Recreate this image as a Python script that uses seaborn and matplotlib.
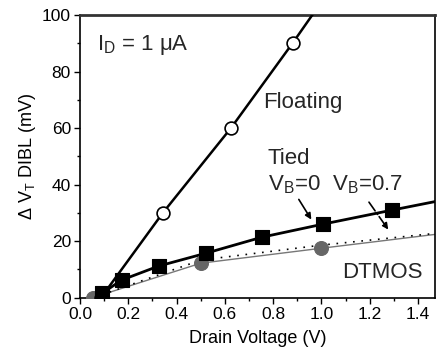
import matplotlib
matplotlib.use("Agg")
import matplotlib.pyplot as plt
import seaborn as sns
from matplotlib.ticker import MultipleLocator

sns.set_theme(style="ticks")
plt.rcParams['font.family'] = ['Liberation Sans', 'DejaVu Sans']
plt.rcParams['mathtext.fontset'] = 'custom'
plt.rcParams['mathtext.rm'] = 'Liberation Sans'
plt.rcParams['mathtext.it'] = 'Liberation Sans'

# Data
float_x = [0.087, 0.343, 0.625, 0.88]
float_y = [0.0, 30.0, 60.0, 90.0]
float_line_x = [0.087, 0.343, 0.625, 0.88, 0.97]
float_line_y = [0.0, 30.0, 60.0, 90.0, 101.0]

tied_x = [0.09, 0.174, 0.326, 0.52, 0.753, 1.005, 1.293]
tied_y = [1.5, 6.3, 11.2, 15.7, 21.4, 26.0, 31.0]
tied_line_x = tied_x + [1.5]
tied_line_y = tied_y + [34.5]

dt_x = [0.052, 0.5, 1.0]
dt_y = [0.0, 12.2, 17.5]
dt_line_x = dt_x + [1.5]
dt_line_y = dt_y + [22.7]

vb07_x = [0.09, 0.5, 1.0, 1.5]
vb07_y = [1.0, 13.3, 18.6, 23.0]

xticks = [0.0, 0.2, 0.4, 0.6, 0.8, 1.0, 1.2, 1.4]
yticks = [0, 20, 40, 60, 80, 100]

fig = plt.figure(figsize=(4.37, 3.52), dpi=100)
ax = fig.add_axes([80/437, 1-297.7/352, (435-80)/437, (297.7-15)/352])

# lines
sns.lineplot(x=float_line_x, y=float_line_y, ax=ax, color='black', lw=1.8, sort=False, zorder=3)
sns.lineplot(x=tied_line_x, y=tied_line_y, ax=ax, color='black', lw=2.0, sort=False, zorder=3)
sns.lineplot(x=dt_line_x, y=dt_line_y, ax=ax, color='#777777', lw=1.0, sort=False, zorder=2)
sns.lineplot(x=vb07_x, y=vb07_y, ax=ax, color='black', lw=1.2, sort=False, zorder=2)
ax.lines[-1].set_linestyle((0, (1, 4)))

# markers
sns.scatterplot(x=float_x, y=float_y, ax=ax, marker='o', s=85, facecolor='white',
                edgecolor='black', linewidth=1.2, zorder=5)
sns.scatterplot(x=tied_x, y=tied_y, ax=ax, marker='s', s=100, color='black',
                edgecolor='black', zorder=5)
sns.scatterplot(x=dt_x, y=dt_y, ax=ax, marker='o', s=100, color='#666666',
                edgecolor='#666666', zorder=4)

ax.set_xlim(0, 1.47)
ax.set_ylim(0, 100)
ax.set_xticks(xticks)
ax.set_yticks(yticks)
ax.xaxis.set_minor_locator(MultipleLocator(0.1))
ax.yaxis.set_minor_locator(MultipleLocator(10))
ax.set_xticklabels([f"{v:.1f}" for v in xticks], fontsize=12.5)
ax.set_yticklabels([str(v) for v in yticks], fontsize=12.5)
ax.tick_params(which='major', direction='out', length=4.5, width=1, color='black', pad=2, labelcolor='black')
ax.tick_params(which='minor', direction='out', length=2.5, width=1, color='black')
for s in ax.spines.values():
    s.set_visible(True)
    s.set_color('black')
    s.set_linewidth(1.2)
ax.spines['top'].set_color('#333333')
ax.spines['top'].set_linewidth(2)

ax.set_xlabel("Drain Voltage (V)", fontsize=13, color='black', labelpad=6)
ax.set_ylabel(r"$\Delta$ V$_T$ DIBL (mV)", fontsize=13, color='black', labelpad=3)

fs = 16
ax.text(0.07, 89.3, r"I$_D$ = 1 μA", fontsize=fs, va='center', ha='left')
ax.text(0.757, 69, "Floating", fontsize=fs, va='center', ha='left')
ax.text(0.778, 49.4, "Tied", fontsize=fs, va='center', ha='left')
ax.text(0.778, 40.0, r"V$_B$=0", fontsize=fs, va='center', ha='left')
ax.text(1.043, 40.0, r"V$_B$=0.7", fontsize=fs, va='center', ha='left')
ax.text(1.084, 8.8, "DTMOS", fontsize=fs, va='center', ha='left')

ax.annotate("", xy=(0.964, 26.8), xytext=(0.90, 35.6),
            arrowprops=dict(arrowstyle='-|>', color='black', lw=1.2, mutation_scale=9), zorder=6)
ax.annotate("", xy=(1.283, 23.3), xytext=(1.19, 34.6),
            arrowprops=dict(arrowstyle='-|>', color='black', lw=1.2, linestyle='-.', mutation_scale=9), zorder=6)

fig.savefig("out.png", dpi=100)
